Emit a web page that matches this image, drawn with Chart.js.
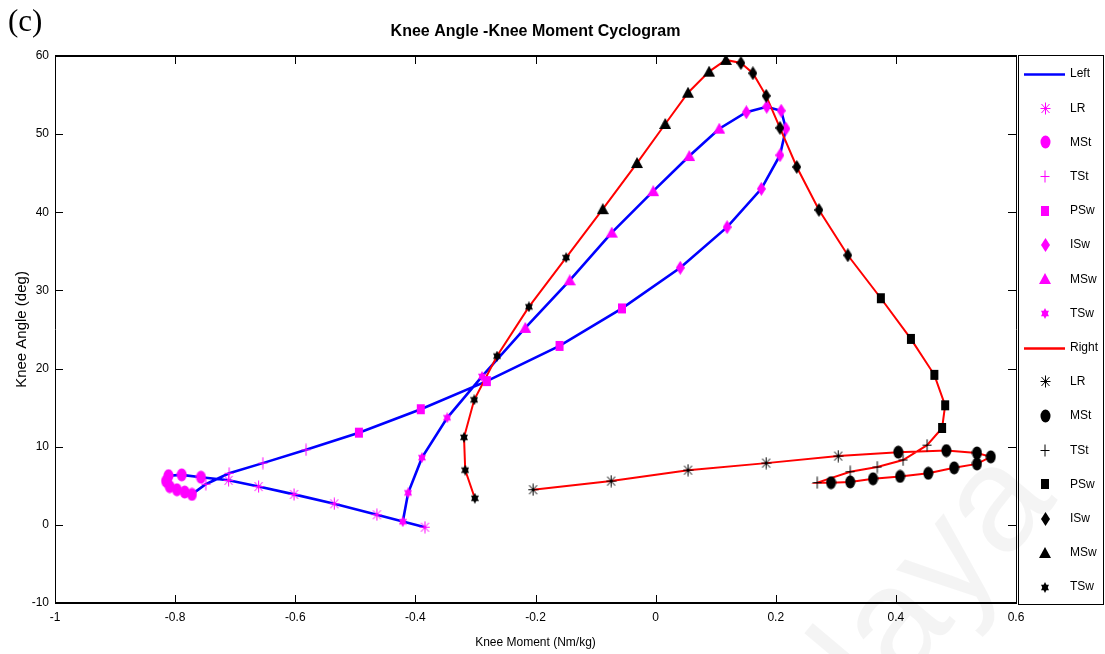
<!DOCTYPE html>
<html>
<head>
<meta charset="utf-8">
<script src="https://cdn.jsdelivr.net/npm/chart.js@4.4.1/dist/chart.umd.min.js"></script>
<style>
  html, body { margin: 0; padding: 0; background: #fff; }
  #wrap { width: 1105px; height: 654px; }
</style>
</head>
<body>
<div id="wrap"><canvas id="cyclogram" width="1105" height="654"></canvas></div>
<script>
// Knee angle vs knee moment over one gait cycle, left and right leg

const PHASES = ['LR', 'MSt', 'TSt', 'PSw', 'ISw', 'MSw', 'TSw'];
const X_TICKS = [-1, -0.8, -0.6, -0.4, -0.2, 0, 0.2, 0.4, 0.6];
const Y_TICKS = [-10, 0, 10, 20, 30, 40, 50, 60];

// left leg, in cycle order (LR -> TSw)
const leftMoment = [
    -0.384, -0.464, -0.535, -0.602, -0.661, -0.711,
    -0.757, -0.789, -0.811, -0.815, -0.809, -0.797, -0.784, -0.772,
    -0.749, -0.710, -0.654, -0.582,
    -0.494, -0.391, -0.281, -0.160, -0.056,
    0.041, 0.119, 0.176, 0.207, 0.217, 0.209, 0.185, 0.151,
    0.106, 0.056, -0.004, -0.073, -0.143, -0.217,
    -0.289, -0.347, -0.389, -0.412, -0.421
];
const leftAngle = [
    -0.3, 1.3, 2.7, 3.9, 4.9, 5.7,
    6.1, 6.4, 6.3, 5.6, 4.9, 4.5, 4.2, 3.9,
    5.2, 6.6, 7.9, 9.6,
    11.8, 14.8, 18.4, 22.9, 27.7,
    32.9, 38.1, 43.0, 47.3, 50.7, 53.0, 53.5, 52.8,
    50.7, 47.2, 42.7, 37.4, 31.3, 25.2,
    19.0, 13.7, 8.6, 4.1, 0.4
];
const leftPhaseCount = [6, 8, 4, 5, 8, 6, 5];

// right leg
const rightMoment = [
    -0.204, -0.074, 0.054, 0.184, 0.304,
    0.404, 0.484, 0.535, 0.558, 0.535, 0.497, 0.454, 0.407, 0.362, 0.324, 0.292,
    0.269, 0.324, 0.369, 0.412, 0.452,
    0.477, 0.482, 0.464, 0.425, 0.375,
    0.320, 0.272, 0.235, 0.207, 0.184, 0.162, 0.142,
    0.117, 0.089, 0.054, 0.016, -0.031, -0.088,
    -0.149, -0.211, -0.264, -0.302, -0.319, -0.317, -0.301
];
const rightAngle = [
    4.5, 5.6, 7.0, 7.9, 8.8,
    9.3, 9.5, 9.2, 8.7, 7.8, 7.3, 6.6, 6.2, 5.9, 5.5, 5.4,
    5.4, 6.8, 7.4, 8.3, 10.2,
    12.4, 15.3, 19.2, 23.8, 29.0,
    34.5, 40.3, 45.8, 50.8, 54.9, 57.8, 59.1,
    59.5, 58.0, 55.3, 51.3, 46.3, 40.4,
    34.2, 27.9, 21.6, 16.0, 11.2, 7.0, 3.4
];
const rightPhaseCount = [5, 11, 5, 5, 7, 6, 7];

const NARROW = "'Liberation Sans Narrow', 'Arial Narrow', 'Liberation Sans', Arial, sans-serif";
const PHASE_SHAPES = ['asterisk', 'ellipse', 'plus', 'square', 'diamond', 'triangle', 'hexagram'];

// small canvas markers (drawn tall, like the original figure)
function makeMarker(shape, color) {
    const sizes = {
        asterisk: [11, 13], ellipse: [11, 14], plus: [10, 13], square: [10, 12],
        diamond: [9, 14], triangle: [12, 12], hexagram: [8, 11]
    };
    const c = document.createElement('canvas');
    c.width = sizes[shape][0];
    c.height = sizes[shape][1];
    const g = c.getContext('2d');
    const w = c.width, h = c.height, cx = w / 2, cy = h / 2;
    g.fillStyle = color;
    g.strokeStyle = color;
    g.lineWidth = 1;
    g.beginPath();
    if (shape === 'asterisk') {
        g.moveTo(cx, 0.5); g.lineTo(cx, h - 0.5);
        g.moveTo(0.5, cy); g.lineTo(w - 0.5, cy);
        g.moveTo(1.5, 2); g.lineTo(w - 1.5, h - 2);
        g.moveTo(w - 1.5, 2); g.lineTo(1.5, h - 2);
        g.stroke();
    } else if (shape === 'ellipse') {
        g.ellipse(cx, cy, w / 2 - 0.5, h / 2 - 0.5, 0, 0, Math.PI * 2);
        g.fill();
    } else if (shape === 'plus') {
        g.moveTo(cx, 0.5); g.lineTo(cx, h - 0.5);
        g.moveTo(0.5, cy); g.lineTo(w - 0.5, cy);
        g.stroke();
    } else if (shape === 'square') {
        g.fillRect(1, 1, w - 2, h - 2);
    } else if (shape === 'diamond') {
        g.moveTo(cx, 0); g.lineTo(w, cy); g.lineTo(cx, h); g.lineTo(0, cy);
        g.closePath(); g.fill();
    } else if (shape === 'triangle') {
        g.moveTo(cx, 0); g.lineTo(w, h - 1); g.lineTo(0, h - 1);
        g.closePath(); g.fill();
    } else if (shape === 'hexagram') {
        // two filled triangles, one up and one down
        g.moveTo(cx, 0); g.lineTo(w, h * 0.74); g.lineTo(0, h * 0.74); g.closePath();
        g.fill();
        g.beginPath();
        g.moveTo(cx, h); g.lineTo(0, h * 0.26); g.lineTo(w, h * 0.26); g.closePath();
        g.fill();
    }
    return c;
}

function toPoints(moment, angle) {
    return moment.map((m, i) => ({ x: m, y: angle[i] }));
}

function phaseSlices(points, counts) {
    const out = [];
    let start = 0;
    counts.forEach(n => { out.push(points.slice(start, start + n)); start += n; });
    return out;
}

function legDatasets(label, moment, angle, counts, lineColor, lineWidth, markColor, lineOrder, markOrder) {
    const pts = toPoints(moment, angle);
    const sets = [{
        label,
        data: pts,
        showLine: true,
        borderColor: lineColor,
        borderWidth: lineWidth,
        pointRadius: 0,
        tension: 0,
        order: lineOrder
    }];
    phaseSlices(pts, counts).forEach((slice, i) => {
        sets.push({
            label: PHASES[i],
            data: slice,
            showLine: false,
            pointStyle: makeMarker(PHASE_SHAPES[i], markColor),
            pointRadius: 5,
            order: markOrder
        });
    });
    return sets;
}

// boxed legend to the right of the plot
const boxLegend = {
    id: 'boxLegend',
    afterDraw(chart) {
        const { ctx, chartArea } = chart;
        const left = chartArea.right + 2, top = chartArea.top - 1;
        const right = chart.width - 2, bottom = chartArea.bottom + 1;
        ctx.save();
        ctx.strokeStyle = '#000';
        ctx.lineWidth = 1;
        ctx.strokeRect(left + 0.5, top + 0.5, right - left, bottom - top);
        ctx.font = '12px ' + NARROW;
        ctx.fillStyle = '#000';
        ctx.textBaseline = 'middle';
        ctx.textAlign = 'left';
        const rowH = 34.2;
        chart.data.datasets.forEach((ds, i) => {
            const y = top + 19 + i * rowH;
            if (ds.showLine) {
                ctx.strokeStyle = ds.borderColor;
                ctx.lineWidth = 2.5;
                ctx.beginPath();
                ctx.moveTo(left + 6, Math.round(y) + 0.5);
                ctx.lineTo(left + 47, Math.round(y) + 0.5);
                ctx.stroke();
            } else {
                const img = ds.pointStyle;
                ctx.drawImage(img, Math.round(left + 27 - img.width / 2), Math.round(y - img.height / 2));
            }
            ctx.fillText(ds.label, left + 52, y);
        });
        ctx.restore();
    }
};

// axes box with inward ticks on all four sides
const axesBox = {
    id: 'axesBox',
    afterDraw(chart) {
        const { ctx, chartArea: a, scales } = chart;
        const tick = 8;
        ctx.save();
        ctx.strokeStyle = '#000';
        ctx.lineWidth = 1;
        ctx.beginPath();
        X_TICKS.forEach(v => {
            const px = Math.round(scales.x.getPixelForValue(v)) + 0.5;
            ctx.moveTo(px, a.top); ctx.lineTo(px, a.top + tick);
            ctx.moveTo(px, a.bottom); ctx.lineTo(px, a.bottom - tick);
        });
        Y_TICKS.forEach(v => {
            const py = Math.round(scales.y.getPixelForValue(v)) + 0.5;
            ctx.moveTo(a.left, py); ctx.lineTo(a.left + tick, py);
            ctx.moveTo(a.right, py); ctx.lineTo(a.right - tick, py);
        });
        ctx.stroke();
        ctx.beginPath();
        ctx.moveTo(a.left + 0.5, a.top); ctx.lineTo(a.left + 0.5, a.bottom);
        ctx.moveTo(a.right + 0.5, a.top); ctx.lineTo(a.right + 0.5, a.bottom);
        ctx.stroke();
        ctx.lineWidth = 2;
        ctx.beginPath();
        ctx.moveTo(a.left, a.top); ctx.lineTo(a.right + 1, a.top);
        ctx.moveTo(a.left, a.bottom); ctx.lineTo(a.right + 1, a.bottom);
        ctx.stroke();
        // panel letter
        ctx.font = "31px 'Liberation Serif', 'Times New Roman', serif";
        ctx.fillStyle = '#000';
        ctx.textBaseline = 'alphabetic';
        ctx.fillText('(c)', 8, 31);
        ctx.restore();
    }
};

// faint watermark behind everything
const watermark = {
    id: 'watermark',
    beforeDraw(chart) {
        const { ctx } = chart;
        ctx.save();
        ctx.fillStyle = 'rgba(0,0,0,0.045)';
        ctx.font = "150px 'Liberation Sans', Arial, sans-serif";
        ctx.translate(1058, 500);
        ctx.rotate(-50 * Math.PI / 180);
        ctx.textAlign = 'right';
        ctx.fillText('Malaya', 0, 0);
        ctx.restore();
    }
};

function tickText(v) {
    return String(Math.round(v * 10) / 10);
}

Chart.defaults.color = '#000';

const datasets = [
    ...legDatasets('Left', leftMoment, leftAngle, leftPhaseCount, '#0000ff', 2.6, '#ff00ff', 3, 1),
    ...legDatasets('Right', rightMoment, rightAngle, rightPhaseCount, '#ff0000', 2, '#000000', 2, 0)
];

new Chart(document.getElementById('cyclogram'), {
    type: 'scatter',
    data: { datasets },
    options: {
        responsive: false,
        animation: false,
        devicePixelRatio: 1,
        layout: { padding: { right: 89 } },
        plugins: {
            legend: { display: false },
            tooltip: { enabled: false },
            title: {
                display: true,
                text: 'Knee Angle -Knee Moment Cyclogram',
                fullSize: false,
                color: '#000',
                font: { family: NARROW, size: 16, weight: 'bold', lineHeight: 1.2 },
                padding: { top: 22, bottom: 14.8 }
            }
        },
        scales: {
            x: {
                type: 'linear',
                min: -1,
                max: 0.6,
                grid: { display: false, drawTicks: false },
                border: { display: false },
                afterBuildTicks: s => { s.ticks = X_TICKS.map(v => ({ value: v })); },
                afterFit: s => { s.height = 51; },
                ticks: {
                    autoSkip: false,
                    maxRotation: 0,
                    padding: 7,
                    color: '#000',
                    font: { family: NARROW, size: 12 },
                    callback: tickText
                },
                title: {
                    display: true,
                    text: 'Knee Moment (Nm/kg)',
                    color: '#000',
                    font: { family: NARROW, size: 12 },
                    padding: { top: 0, bottom: 4 }
                }
            },
            y: {
                type: 'linear',
                min: -10,
                max: 60,
                grid: { display: false, drawTicks: false },
                border: { display: false },
                afterBuildTicks: s => { s.ticks = Y_TICKS.map(v => ({ value: v })); },
                afterFit: s => { s.width = 55; },
                ticks: {
                    autoSkip: false,
                    padding: 6,
                    color: '#000',
                    font: { family: NARROW, size: 12 },
                    callback: tickText
                },
                title: {
                    display: true,
                    text: 'Knee Angle (deg)',
                    color: '#000',
                    font: { family: "'Liberation Sans', Arial, sans-serif", size: 15 },
                    padding: { top: 13, bottom: 0 }
                }
            }
        }
    },
    plugins: [watermark, axesBox, boxLegend]
});
</script>
</body>
</html>
